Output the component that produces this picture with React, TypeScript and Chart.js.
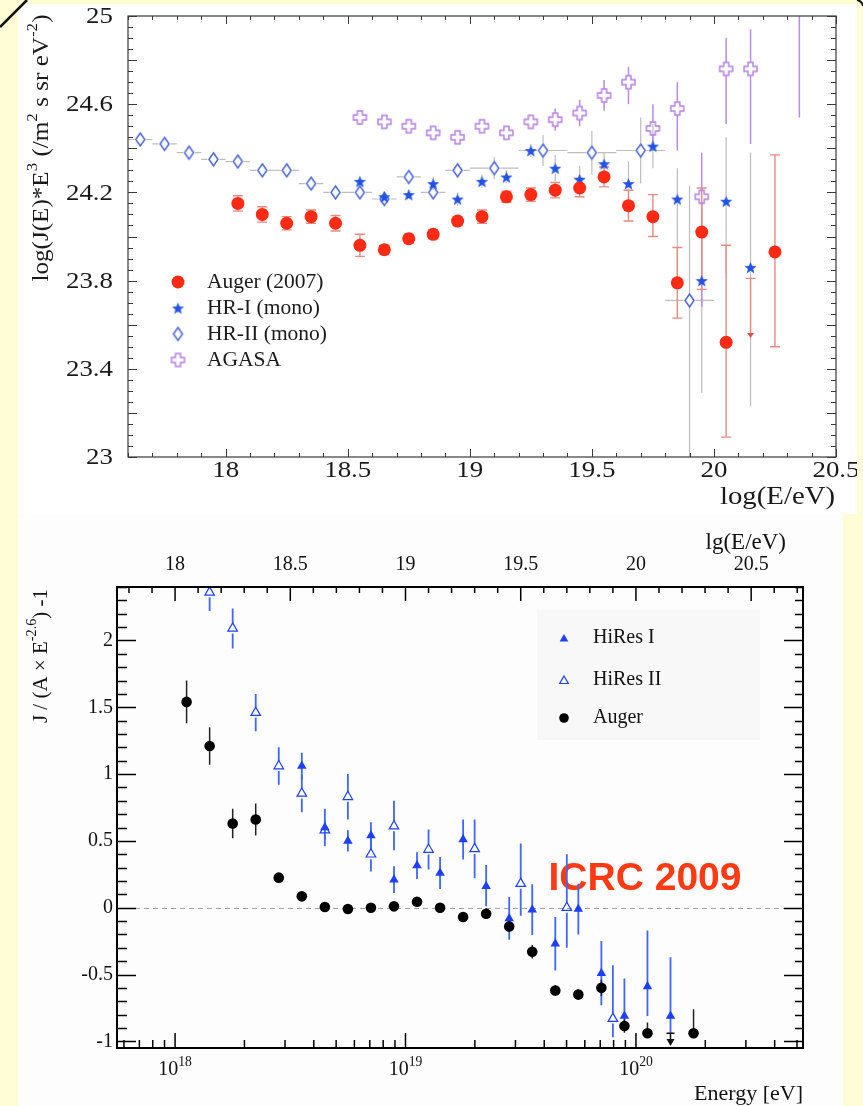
import { useEffect, useRef } from "react";
import { Chart, registerables } from "chart.js";

Chart.register(...registerables);

const SERIF = '"Liberation Serif", "DejaVu Serif", serif';
const SANS = '"Liberation Sans", Arial, sans-serif';
const PAGE_BG = "#fffdd5";

// ---------- upper panel: log(J(E)*E^3) against log(E/eV) ----------
const topXTicks = [18, 18.5, 19, 19.5, 20, 20.5];
const topXTickLabels = ["18", "18.5", "19", "19.5", "20", "20.5"];
const topYTicks = [23, 23.4, 23.8, 24.2, 24.6, 25];
const topYTickLabels = ["23", "23.4", "23.8", "24.2", "24.6", "25"];

const augerLgE = [18.05, 18.15, 18.25, 18.35, 18.45, 18.55, 18.65, 18.75, 18.85, 18.95, 19.05, 19.15, 19.25, 19.35, 19.45, 19.55, 19.65, 19.75, 19.85, 19.95, 20.05, 20.25];
const augerFlux = [24.15, 24.1, 24.06, 24.09, 24.06, 23.96, 23.94, 23.99, 24.01, 24.07, 24.09, 24.18, 24.19, 24.21, 24.22, 24.27, 24.14, 24.09, 23.79, 24.02, 23.52, 23.93];
const augerErrUp = [0.035, 0.035, 0.03, 0.03, 0.035, 0.05, 0.02, 0.02, 0.02, 0.02, 0.03, 0.025, 0.03, 0.035, 0.04, 0.045, 0.07, 0.1, 0.16, 0.2, 0.44, 0.44];
const augerErrDown = [0.035, 0.035, 0.03, 0.03, 0.035, 0.05, 0.02, 0.02, 0.02, 0.02, 0.03, 0.025, 0.03, 0.035, 0.04, 0.045, 0.07, 0.09, 0.16, 0.26, 0.43, 0.43];
const augerLimitLgE = 20.15;
const augerLimitFlux = 23.81;
const augerLimitEnd = 23.54;

const hr1LgE = [18.55, 18.65, 18.75, 18.85, 18.95, 19.05, 19.15, 19.25, 19.35, 19.45, 19.55, 19.65, 19.75, 19.85, 19.95, 20.05, 20.15];
const hr1Flux = [24.25, 24.18, 24.19, 24.24, 24.17, 24.25, 24.27, 24.39, 24.31, 24.26, 24.33, 24.24, 24.41, 24.17, 23.8, 24.16, 23.86];
const hr1ErrUp = [0.02, 0.02, 0.02, 0.03, 0.03, 0.03, 0.03, 0.03, 0.06, 0.06, 0.05, 0.1, 0.1, 0.14, 0.3, 0.29, 0.52];
const hr1ErrDown = [0.02, 0.02, 0.02, 0.03, 0.03, 0.03, 0.03, 0.03, 0.06, 0.06, 0.05, 0.1, 0.1, 0.4, 0.51, 0.33, 0.63];

const hr2LgE = [17.65, 17.75, 17.85, 17.95, 18.05, 18.15, 18.25, 18.35, 18.45, 18.55, 18.65, 18.75, 18.85, 18.95, 19.1, 19.3, 19.5, 19.7, 19.9];
const hr2Flux = [24.44, 24.42, 24.38, 24.35, 24.34, 24.3, 24.3, 24.24, 24.2, 24.2, 24.17, 24.27, 24.2, 24.3, 24.31, 24.39, 24.38, 24.39, 23.71];
const hr2ErrUp = [0.012, 0.012, 0.012, 0.012, 0.012, 0.012, 0.015, 0.015, 0.015, 0.02, 0.02, 0.03, 0.03, 0.035, 0.05, 0.07, 0.1, 0.15, 0.52];
const hr2ErrDown = [0.012, 0.012, 0.012, 0.012, 0.012, 0.012, 0.015, 0.015, 0.015, 0.02, 0.02, 0.03, 0.03, 0.035, 0.05, 0.07, 0.1, 0.15, 0.9];
const hr2BinHalf = [0.05, 0.05, 0.05, 0.05, 0.05, 0.05, 0.05, 0.05, 0.05, 0.05, 0.05, 0.05, 0.05, 0.05, 0.1, 0.1, 0.1, 0.1, 0.1];

const agasaLgE = [18.55, 18.65, 18.75, 18.85, 18.95, 19.05, 19.15, 19.25, 19.35, 19.45, 19.55, 19.65, 19.75, 19.85, 19.95, 20.05, 20.15, 20.35];
const agasaFlux = [24.54, 24.52, 24.5, 24.47, 24.45, 24.5, 24.47, 24.52, 24.53, 24.56, 24.64, 24.7, 24.49, 24.58, 24.18, 24.76, 24.76, 25.1];
const agasaErrUp = [0.015, 0.015, 0.015, 0.02, 0.02, 0.02, 0.025, 0.03, 0.05, 0.06, 0.07, 0.07, 0.11, 0.12, 0.2, 0.14, 0.18, 0.2];
const agasaErrDown = [0.015, 0.015, 0.015, 0.02, 0.02, 0.02, 0.025, 0.03, 0.05, 0.06, 0.07, 0.1, 0.08, 0.19, 0.5, 0.25, 0.34, 0.56];

const topLegend = ["Auger (2007)", "HR-I (mono)", "HR-II (mono)", "AGASA"];

// ---------- lower panel: J / (A E^-2.6) - 1 against energy ----------
const botXDecades = [18, 19, 20];
const botTopTicks = [18, 18.5, 19, 19.5, 20, 20.5];
const botTopTickLabels = ["18", "18.5", "19", "19.5", "20", "20.5"];
const botYTicks = [2, 1.5, 1, 0.5, 0, -0.5, -1];
const botYTickLabels = ["2", "1.5", "1", "0.5", "0", "-0.5", "-1"];

const augerLgE2 = [18.05, 18.15, 18.25, 18.35, 18.45, 18.55, 18.65, 18.75, 18.85, 18.95, 19.05, 19.15, 19.25, 19.35, 19.45, 19.55, 19.65, 19.75, 19.85, 19.95, 20.05, 20.25];
const augerRatio = [1.54, 1.21, 0.63, 0.66, 0.225, 0.085, 0.005, -0.01, 0.0, 0.01, 0.045, 0.0, -0.07, -0.045, -0.14, -0.33, -0.62, -0.65, -0.6, -0.885, -0.94, -0.94];
const augerRatioUp = [0.16, 0.14, 0.11, 0.12, 0.02, 0.02, 0.02, 0.02, 0.02, 0.02, 0.02, 0.02, 0.02, 0.04, 0.04, 0.05, 0.04, 0.04, 0.06, 0.05, 0.08, 0.18];
const augerRatioDown = [0.16, 0.14, 0.11, 0.12, 0.02, 0.02, 0.02, 0.02, 0.02, 0.02, 0.02, 0.02, 0.02, 0.04, 0.04, 0.05, 0.04, 0.04, 0.06, 0.05, 0.03, 0.03];
const augerLimitLgE2 = 20.15;
const augerLimitRatio = -0.94;
const augerLimitRatioEnd = -1.035;

const hiresILgE = [18.55, 18.65, 18.75, 18.85, 18.95, 19.05, 19.15, 19.25, 19.35, 19.45, 19.55, 19.65, 19.75, 19.85, 19.95, 20.05, 20.15];
const hiresIRatio = [1.06, 0.6, 0.5, 0.54, 0.21, 0.315, 0.26, 0.51, 0.16, -0.08, -0.015, -0.27, -0.01, -0.49, -0.81, -0.59, -0.81];
const hiresIUp = [0.1, 0.14, 0.08, 0.1, 0.1, 0.1, 0.12, 0.15, 0.16, 0.16, 0.19, 0.2, 0.19, 0.24, 0.28, 0.42, 0.44];
const hiresIDown = [0.1, 0.14, 0.08, 0.1, 0.1, 0.1, 0.12, 0.15, 0.15, 0.16, 0.19, 0.2, 0.19, 0.24, 0.11, 0.22, 0.13];

const hiresIILgE = [18.15, 18.25, 18.35, 18.45, 18.55, 18.65, 18.75, 18.85, 18.95, 19.1, 19.3, 19.5, 19.7, 19.9];
const hiresIIRatio = [2.36, 2.09, 1.46, 1.06, 0.855, 0.58, 0.83, 0.4, 0.61, 0.435, 0.44, 0.18, 0.0, -0.83];
const hiresIIUp = [0.15, 0.15, 0.14, 0.14, 0.14, 0.07, 0.17, 0.13, 0.19, 0.15, 0.22, 0.3, 0.4, 0.4];
const hiresIIDown = [0.14, 0.15, 0.14, 0.14, 0.14, 0.07, 0.17, 0.13, 0.18, 0.15, 0.22, 0.24, 0.3, 0.14];

const botLegend = ["HiRes I", "HiRes II", "Auger"];

// ---------- colours ----------
const RED = "#ff2a14";
const RED_ERR = "#e88a82";
const STAR_BLUE = "#2352e6";
const DIAMOND_BLUE = "#4a64d8";
const GREY_ERR = "#bdbdbd";
const PURPLE = "#b27be3";
const PURPLE_ERR = "#b98ae6";
const HIRES_BLUE = "#1d3fff";
const HIRES_ERR = "#3f66ff";

type Seg = { t: string; sup?: boolean };
type TextOpts = {
  align?: "left" | "center" | "right";
  family?: string;
  weight?: string;
  color?: string;
  scaleX?: number;
  fit?: number;
  rotate?: number;
};

function drawRich(ctx: CanvasRenderingContext2D, segs: Seg[], x: number, y: number, size: number, o: TextOpts = {}) {
  const fam = o.family || SERIF;
  const weight = o.weight || "normal";
  const supSize = size * 0.68;
  const widths = segs.map((s) => {
    ctx.font = `${weight} ${s.sup ? supSize : size}px ${fam}`;
    return ctx.measureText(s.t).width;
  });
  const natural = widths.reduce((a, b) => a + b, 0);
  const sx = o.fit ? o.fit / natural : o.scaleX || 1;
  const total = natural * sx;
  ctx.save();
  ctx.translate(x, y);
  if (o.rotate) ctx.rotate(o.rotate);
  const start = o.align === "center" ? -total / 2 : o.align === "right" ? -total : 0;
  ctx.translate(start, 0);
  ctx.scale(sx, 1);
  ctx.fillStyle = o.color || "#111";
  ctx.textBaseline = "middle";
  ctx.textAlign = "left";
  let cx = 0;
  segs.forEach((s, i) => {
    ctx.font = `${weight} ${s.sup ? supSize : size}px ${fam}`;
    ctx.fillText(s.t, cx, s.sup ? -size * 0.4 : 0);
    cx += widths[i];
  });
  ctx.restore();
}

function makeCanvas(w: number, h: number, draw: (g: CanvasRenderingContext2D) => void) {
  const c = document.createElement("canvas");
  c.width = w;
  c.height = h;
  draw(c.getContext("2d") as CanvasRenderingContext2D);
  return c;
}

function starMarker(color: string, R: number) {
  const s = Math.ceil(R * 2 + 2);
  return makeCanvas(s, s, (g) => {
    const cx = s / 2;
    const cy = s / 2 + R * 0.1;
    g.beginPath();
    for (let i = 0; i < 10; i++) {
      const r = i % 2 === 0 ? R : R * 0.42;
      const ang = -Math.PI / 2 + (i * Math.PI) / 5;
      g.lineTo(cx + r * Math.cos(ang), cy + r * Math.sin(ang));
    }
    g.closePath();
    g.fillStyle = color;
    g.fill();
  });
}

function diamondMarker(color: string, w: number, h: number) {
  return makeCanvas(w + 4, h + 4, (g) => {
    const cx = (w + 4) / 2;
    const cy = (h + 4) / 2;
    g.beginPath();
    g.moveTo(cx, cy - h / 2);
    g.lineTo(cx + w / 2, cy);
    g.lineTo(cx, cy + h / 2);
    g.lineTo(cx - w / 2, cy);
    g.closePath();
    g.strokeStyle = color;
    g.lineWidth = 1.5;
    g.stroke();
  });
}

function openCrossMarker(color: string, size: number, arm: number) {
  const s = size + 4;
  return makeCanvas(s, s, (g) => {
    const c = s / 2;
    const h = size / 2;
    const a = arm / 2;
    const pts = [
      [c - a, c - h], [c + a, c - h], [c + a, c - a], [c + h, c - a], [c + h, c + a], [c + a, c + a],
      [c + a, c + h], [c - a, c + h], [c - a, c + a], [c - h, c + a], [c - h, c - a], [c - a, c - a],
    ];
    g.beginPath();
    pts.forEach(([px, py], i) => (i === 0 ? g.moveTo(px, py) : g.lineTo(px, py)));
    g.closePath();
    g.strokeStyle = color;
    g.lineWidth = 1.4;
    g.stroke();
  });
}

function triangle(ctx: CanvasRenderingContext2D, x: number, y: number, r: number, fill: boolean, color: string, lw = 1.2) {
  ctx.beginPath();
  for (let i = 0; i < 3; i++) {
    const ang = (i * 2 * Math.PI) / 3;
    const px = x + Math.sin(ang) * r;
    const py = y - Math.cos(ang) * r;
    if (i === 0) ctx.moveTo(px, py);
    else ctx.lineTo(px, py);
  }
  ctx.closePath();
  if (fill) {
    ctx.fillStyle = color;
    ctx.fill();
  } else {
    ctx.strokeStyle = color;
    ctx.lineWidth = lw;
    ctx.stroke();
  }
}

type ErrSet = {
  x: number[];
  y: number[];
  up: number[];
  dn: number[];
  xHalf?: number[];
  color: string;
  width: number;
  cap?: number;
  gapX?: number;
  gapY?: number;
  toX?: (v: number) => number;
};

function drawErrors(chart: any, sets: ErrSet[]) {
  const { ctx, chartArea: a } = chart;
  const xs = chart.scales.x;
  const ys = chart.scales.y;
  ctx.save();
  ctx.beginPath();
  ctx.rect(a.left, a.top, a.right - a.left, a.bottom - a.top);
  ctx.clip();
  for (const s of sets) {
    ctx.strokeStyle = s.color;
    ctx.lineWidth = s.width;
    s.x.forEach((xv, i) => {
      const conv = s.toX || ((v: number) => v);
      const px = xs.getPixelForValue(conv(xv));
      const py = ys.getPixelForValue(s.y[i]);
      const pTop = ys.getPixelForValue(s.y[i] + s.up[i]);
      const pBot = ys.getPixelForValue(s.y[i] - s.dn[i]);
      const gy = s.gapY || 0;
      ctx.beginPath();
      if (pTop < py - gy) {
        ctx.moveTo(px, py - gy);
        ctx.lineTo(px, pTop);
      }
      if (pBot > py + gy) {
        ctx.moveTo(px, py + gy);
        ctx.lineTo(px, pBot);
      }
      if (s.cap) {
        ctx.moveTo(px - s.cap, pTop);
        ctx.lineTo(px + s.cap, pTop);
        ctx.moveTo(px - s.cap, pBot);
        ctx.lineTo(px + s.cap, pBot);
      }
      if (s.xHalf) {
        const l = xs.getPixelForValue(conv(xv - s.xHalf[i]));
        const r = xs.getPixelForValue(conv(xv + s.xHalf[i]));
        const gx = s.gapX || 0;
        ctx.moveTo(l, py);
        ctx.lineTo(px - gx, py);
        ctx.moveTo(px + gx, py);
        ctx.lineTo(r, py);
      }
      ctx.stroke();
    });
  }
  ctx.restore();
}

const pts = (xs: number[], ys: number[], conv: (v: number) => number = (v) => v) =>
  xs.map((x, i) => ({ x: conv(x), y: ys[i] }));

function buildTop(canvas: HTMLCanvasElement) {
  const star = starMarker(STAR_BLUE, 6.5);
  const diamond = diamondMarker(DIAMOND_BLUE, 9, 13);
  const cross = openCrossMarker(PURPLE, 13, 5);

  const errorSets: ErrSet[] = [
    { x: hr2LgE, y: hr2Flux, up: hr2ErrUp, dn: hr2ErrDown, xHalf: hr2BinHalf, color: GREY_ERR, width: 1.2, gapX: 6, gapY: 7 },
    { x: hr1LgE, y: hr1Flux, up: hr1ErrUp, dn: hr1ErrDown, color: GREY_ERR, width: 1.2, gapY: 5 },
    { x: agasaLgE, y: agasaFlux, up: agasaErrUp, dn: agasaErrDown, color: PURPLE_ERR, width: 1.5, gapY: 7 },
    { x: augerLgE, y: augerFlux, up: augerErrUp, dn: augerErrDown, color: RED_ERR, width: 1.4, cap: 5 },
  ];

  const decor = {
    id: "topDecor",
    beforeDatasetsDraw(chart: any) {
      drawErrors(chart, errorSets);
      const { ctx } = chart;
      const xs = chart.scales.x;
      const ys = chart.scales.y;
      // Auger upper limit
      const px = xs.getPixelForValue(augerLimitLgE);
      const p0 = ys.getPixelForValue(augerLimitFlux);
      const p1 = ys.getPixelForValue(augerLimitEnd);
      ctx.save();
      ctx.strokeStyle = RED_ERR;
      ctx.lineWidth = 1.4;
      ctx.beginPath();
      ctx.moveTo(px - 5, p0);
      ctx.lineTo(px + 5, p0);
      ctx.moveTo(px, p0);
      ctx.lineTo(px, p1 - 4);
      ctx.stroke();
      ctx.fillStyle = "#e0524a";
      ctx.beginPath();
      ctx.moveTo(px - 3.5, p1 - 5);
      ctx.lineTo(px + 3.5, p1 - 5);
      ctx.lineTo(px, p1);
      ctx.closePath();
      ctx.fill();
      ctx.restore();
    },
    afterDatasetsDraw(chart: any) {
      const { ctx, chartArea: a } = chart;
      const xs = chart.scales.x;
      const ys = chart.scales.y;
      ctx.save();
      ctx.strokeStyle = "#3a3a3a";
      ctx.lineWidth = 1.2;
      ctx.strokeRect(a.left, a.top, a.right - a.left, a.bottom - a.top);
      ctx.lineWidth = 1;
      ctx.beginPath();
      for (let i = 176; i <= 205; i++) {
        const px = Math.round(xs.getPixelForValue(i / 10)) + 0.5;
        const len = i % 5 === 0 ? 8 : 4;
        ctx.moveTo(px, a.bottom);
        ctx.lineTo(px, a.bottom - len);
        ctx.moveTo(px, a.top);
        ctx.lineTo(px, a.top + len);
      }
      for (let i = 460; i <= 500; i++) {
        const py = Math.round(ys.getPixelForValue(i / 20)) + 0.5;
        const len = i % 4 === 0 ? 9 : 5;
        ctx.moveTo(a.left, py);
        ctx.lineTo(a.left + len, py);
        ctx.moveTo(a.right, py);
        ctx.lineTo(a.right - len, py);
      }
      ctx.stroke();
      ctx.restore();

      topXTicks.forEach((v, i) => {
        drawRich(ctx, [{ t: topXTickLabels[i] }], xs.getPixelForValue(v), a.bottom + 14, 24, { align: "center", scaleX: 1.12, color: "#1a1a1a" });
      });
      topYTicks.forEach((v, i) => {
        drawRich(ctx, [{ t: topYTickLabels[i] }], a.left - 15, ys.getPixelForValue(v) + 1, 24, { align: "right", scaleX: 1.12, color: "#1a1a1a" });
      });
      drawRich(ctx, [{ t: "log(E/eV)" }], a.right - 1, a.bottom + 40, 26, { align: "right", fit: 115, color: "#1a1a1a" });
      drawRich(
        ctx,
        [{ t: "log(J(E)*E" }, { t: "3", sup: true }, { t: " (/m" }, { t: "2", sup: true }, { t: " s sr eV" }, { t: "-2", sup: true }, { t: ")" }],
        24,
        144,
        23,
        { align: "center", fit: 267, rotate: -Math.PI / 2, color: "#1a1a1a" }
      );

      // legend
      const lx = 160;
      const rows = [278, 304, 330, 356];
      ctx.save();
      ctx.fillStyle = RED;
      ctx.beginPath();
      ctx.arc(lx, rows[0], 6.5, 0, Math.PI * 2);
      ctx.fill();
      ctx.drawImage(star, lx - star.width / 2, rows[1] - star.height / 2);
      ctx.drawImage(diamond, lx - diamond.width / 2, rows[2] - diamond.height / 2);
      ctx.drawImage(cross, lx - cross.width / 2, rows[3] - cross.height / 2);
      ctx.restore();
      topLegend.forEach((t, i) => drawRich(ctx, [{ t }], 189, rows[i], 21.5, { color: "#1a1a1a" }));
    },
  };

  return new Chart(canvas, {
    type: "scatter",
    data: {
      datasets: [
        { label: topLegend[0], data: pts(augerLgE, augerFlux), pointStyle: "circle", pointRadius: 6.5, backgroundColor: RED, borderWidth: 0 },
        { label: topLegend[1], data: pts(hr1LgE, hr1Flux), pointStyle: star, pointRadius: 6, borderWidth: 0 },
        { label: topLegend[2], data: pts(hr2LgE, hr2Flux), pointStyle: diamond, pointRadius: 6, borderWidth: 0 },
        { label: topLegend[3], data: pts(agasaLgE, agasaFlux), pointStyle: cross, pointRadius: 6, borderWidth: 0 },
      ] as any,
    },
    options: {
      animation: false,
      responsive: false,
      events: [],
      layout: { padding: { left: 110, right: 21, top: 12, bottom: 57 } },
      scales: {
        x: { type: "linear", min: 17.6, max: 20.5, display: false },
        y: { type: "linear", min: 23, max: 25, display: false },
      },
      plugins: { legend: { display: false }, tooltip: { enabled: false } },
    },
    plugins: [decor],
  } as any);
}

function buildBottom(canvas: HTMLCanvasElement) {
  const toE = (lg: number) => Math.pow(10, lg);

  const errorSets: ErrSet[] = [
    { x: hiresILgE, y: hiresIRatio, up: hiresIUp, dn: hiresIDown, color: HIRES_ERR, width: 1.8, gapY: 0, toX: toE },
    { x: hiresIILgE, y: hiresIIRatio, up: hiresIIUp, dn: hiresIIDown, color: HIRES_ERR, width: 1.8, gapY: 5, toX: toE },
    { x: augerLgE2, y: augerRatio, up: augerRatioUp, dn: augerRatioDown, color: "#222", width: 1.5, toX: toE },
  ];

  const decor = {
    id: "bottomDecor",
    beforeDatasetsDraw(chart: any) {
      const { ctx, chartArea: a } = chart;
      const xs = chart.scales.x;
      const ys = chart.scales.y;
      // legend panel
      ctx.save();
      ctx.fillStyle = "#f8f8f8";
      ctx.fillRect(519, 96, 223, 130);
      // zero reference line
      const y0 = Math.round(ys.getPixelForValue(0)) + 0.5;
      ctx.strokeStyle = "#a0a0a0";
      ctx.lineWidth = 1;
      ctx.setLineDash([5, 4]);
      ctx.beginPath();
      ctx.moveTo(a.left, y0);
      ctx.lineTo(a.right, y0);
      ctx.stroke();
      ctx.setLineDash([]);
      ctx.restore();
      drawRich(ctx, [{ t: "ICRC 2009" }], 627, 365, 39, { align: "center", family: SANS, weight: "bold", color: "#ff3a12" });

      drawErrors(chart, errorSets);

      // Auger upper limit
      const px = xs.getPixelForValue(toE(augerLimitLgE2));
      const p0 = ys.getPixelForValue(augerLimitRatio);
      const p1 = ys.getPixelForValue(augerLimitRatioEnd);
      ctx.save();
      ctx.strokeStyle = "#111";
      ctx.lineWidth = 1.5;
      ctx.beginPath();
      ctx.moveTo(px - 4, p0);
      ctx.lineTo(px + 4, p0);
      ctx.moveTo(px, p0);
      ctx.lineTo(px, p1 - 6);
      ctx.stroke();
      ctx.fillStyle = "#111";
      ctx.beginPath();
      ctx.moveTo(px - 4, p1 - 7);
      ctx.lineTo(px + 4, p1 - 7);
      ctx.lineTo(px, p1);
      ctx.closePath();
      ctx.fill();
      ctx.restore();
    },
    afterDatasetsDraw(chart: any) {
      const { ctx, chartArea: a } = chart;
      const xs = chart.scales.x;
      const ys = chart.scales.y;
      ctx.save();
      ctx.strokeStyle = "#000";
      ctx.lineWidth = 2;
      ctx.strokeRect(a.left, a.top, a.right - a.left, a.bottom - a.top);
      ctx.lineWidth = 1.5;
      ctx.beginPath();
      // energy axis (bottom): logarithmic ticks
      for (let d = 17; d <= 20; d++) {
        for (let m = 1; m <= 9; m++) {
          const v = m * Math.pow(10, d);
          if (v < xs.min || v > xs.max) continue;
          const px = xs.getPixelForValue(v);
          const len = m === 1 ? 15 : 8;
          ctx.moveTo(px, a.bottom);
          ctx.lineTo(px, a.bottom - len);
        }
      }
      // lg(E/eV) axis (top)
      for (let i = 178; i <= 207; i++) {
        const px = xs.getPixelForValue(toE(i / 10));
        const len = i % 5 === 0 ? 14 : 6;
        ctx.moveTo(px, a.top);
        ctx.lineTo(px, a.top + len);
      }
      // ratio axis, both sides
      for (let i = -10; i <= 24; i++) {
        const py = Math.round(ys.getPixelForValue(i / 10)) + 0.5;
        const major = i % 5 === 0;
        ctx.moveTo(a.left, py);
        ctx.lineTo(a.left + (major ? 19 : 10), py);
        ctx.moveTo(a.right, py);
        ctx.lineTo(a.right - (major ? 19 : 8), py);
      }
      ctx.stroke();
      ctx.restore();

      botYTicks.forEach((v, i) => {
        drawRich(ctx, [{ t: botYTickLabels[i] }], a.left - 4, ys.getPixelForValue(v), 20, { align: "right", color: "#111" });
      });
      botXDecades.forEach((d) => {
        drawRich(ctx, [{ t: "10" }, { t: String(d), sup: true }], xs.getPixelForValue(toE(d)), a.bottom + 22, 20, { align: "center", color: "#111" });
      });
      botTopTicks.forEach((v, i) => {
        drawRich(ctx, [{ t: botTopTickLabels[i] }], xs.getPixelForValue(toE(v)), a.top - 22, 20, { align: "center", color: "#111" });
      });
      drawRich(ctx, [{ t: "lg(E/eV)" }], a.right - 17, a.top - 44, 23, { align: "right", color: "#111" });
      drawRich(ctx, [{ t: "Energy [eV]" }], a.right, a.bottom + 46, 22, { align: "right", color: "#111" });
      drawRich(
        ctx,
        [{ t: "J / (A \u00d7 E" }, { t: "-2.6", sup: true }, { t: ") -1" }],
        23,
        142,
        21,
        { align: "center", rotate: -Math.PI / 2, color: "#111" }
      );

      // legend
      const lx = 546;
      const rows = [124, 166, 204];
      ctx.save();
      triangle(ctx, lx, rows[0] + 1, 5, true, HIRES_BLUE);
      triangle(ctx, lx, rows[1] + 1, 5, false, HIRES_BLUE, 1.2);
      ctx.fillStyle = "#000";
      ctx.beginPath();
      ctx.arc(lx, rows[2], 4.8, 0, Math.PI * 2);
      ctx.fill();
      ctx.restore();
      botLegend.forEach((t, i) => drawRich(ctx, [{ t }], 575, rows[i], 20, { color: "#111" }));
    },
  };

  return new Chart(canvas, {
    type: "scatter",
    data: {
      datasets: [
        { label: botLegend[2], data: pts(augerLgE2, augerRatio, toE), pointStyle: "circle", pointRadius: 5.3, backgroundColor: "#000", borderWidth: 0 },
        { label: botLegend[0], data: pts(hiresILgE, hiresIRatio, toE), pointStyle: "triangle", pointRadius: 5.5, backgroundColor: HIRES_BLUE, borderColor: HIRES_BLUE, borderWidth: 0 },
        { label: botLegend[1], data: pts(hiresIILgE, hiresIIRatio, toE), pointStyle: "triangle", pointRadius: 5.5, backgroundColor: "rgba(0,0,0,0)", borderColor: HIRES_BLUE, borderWidth: 1.2 },
      ] as any,
    },
    options: {
      animation: false,
      responsive: false,
      events: [],
      layout: { padding: { left: 99, right: 40, top: 73, bottom: 58 } },
      scales: {
        x: { type: "logarithmic", min: Math.pow(10, 17.748), max: Math.pow(10, 20.725), display: false },
        y: { type: "linear", min: -1.05, max: 2.4, display: false },
      },
      plugins: { legend: { display: false }, tooltip: { enabled: false } },
    },
    plugins: [decor],
  } as any);
}

export default function App() {
  const topRef = useRef<HTMLCanvasElement>(null);
  const botRef = useRef<HTMLCanvasElement>(null);

  useEffect(() => {
    const top = buildTop(topRef.current as HTMLCanvasElement);
    const bottom = buildBottom(botRef.current as HTMLCanvasElement);
    return () => {
      top.destroy();
      bottom.destroy();
    };
  }, []);

  return (
    <div style={{ position: "absolute", left: 0, top: 0, width: 863, height: 1106, background: PAGE_BG, overflow: "hidden" }}>
      <canvas ref={topRef} width={839} height={510} style={{ position: "absolute", left: 18, top: 4, width: 839, height: 510, background: "#ffffff" }} />
      <canvas ref={botRef} width={825} height={592} style={{ position: "absolute", left: 18, top: 514, width: 825, height: 592, background: "#fdfdfd" }} />
      <svg width={863} height={1106} style={{ position: "absolute", left: 0, top: 0, pointerEvents: "none" }}>
        <line x1={0} y1={27} x2={27} y2={0} stroke="#111" strokeWidth={2.5} />
        <path d="M857 0 Q862 1 863 6" stroke="#111" strokeWidth={2} fill="none" />
      </svg>
    </div>
  );
}
